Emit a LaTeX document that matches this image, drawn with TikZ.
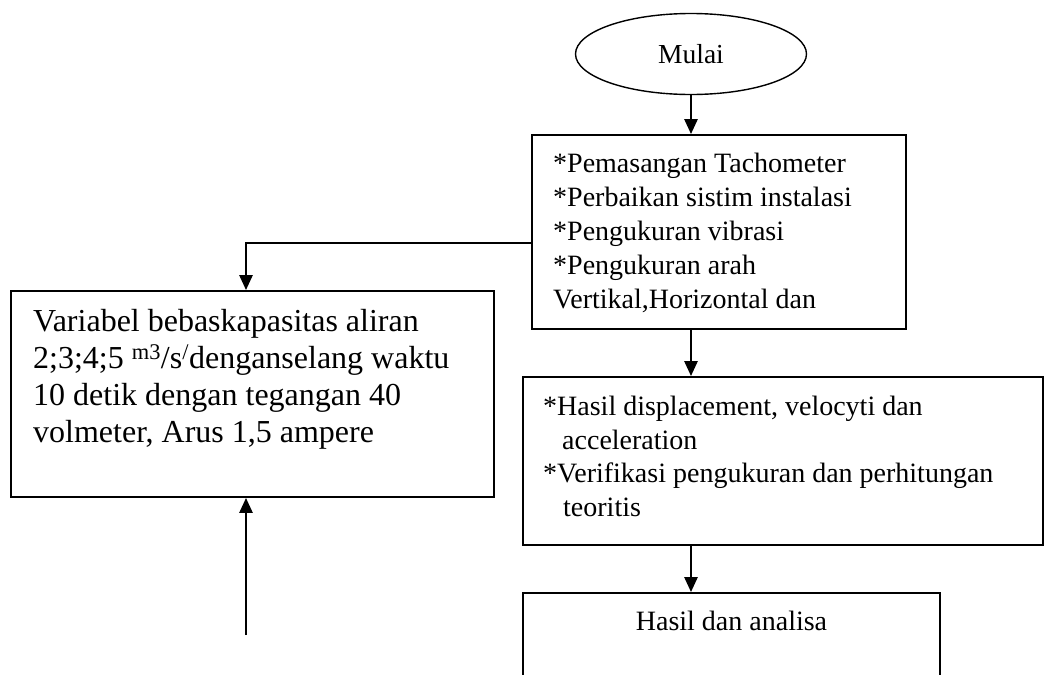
\documentclass[tikz,border=0pt]{standalone}
\usepackage{fontspec}
\setmainfont{Liberation Serif}
\usetikzlibrary{arrows.meta,shapes.geometric,calc}
\begin{document}
\begin{tikzpicture}[x=1pt,y=-1pt,
  box/.style={draw, line width=1.8pt, rectangle, inner sep=0pt},
  conn/.style={line width=2.6pt, -{Triangle[length=15pt,width=13pt]}},
  txt/.style={inner sep=0pt, align=left, anchor=north west, font=\fontsize{28}{34}\selectfont}]
\useasboundingbox (0,0) rectangle (1045,675);
\clip (0,0) rectangle (1045,675);
\node[ellipse, draw, line width=1.4pt, minimum width=231pt, minimum height=81pt, inner sep=0pt, font=\fontsize{27.5}{32}\selectfont] (start) at (691,54) {Mulai};
\node[box, minimum width=374pt, minimum height=194pt] (b1) at (719,232) {};
\node[box, minimum width=483pt, minimum height=206pt] (b2) at (252.5,394) {};
\node[box, minimum width=520pt, minimum height=168pt] (b3) at (783,461) {};
\node[box, minimum width=417pt, minimum height=140pt] (b4) at (731.5,663) {};
\node[txt] (t1) at (553,152.5) {*Pemasangan Tachometer\\*Perbaikan sistim instalasi\\*Pengukuran vibrasi\\*Pengukuran arah\\Vertikal,Horizontal dan};
\node[txt, font=\fontsize{32}{37}\selectfont] (t2) at (33,309) {Variabel bebaskapasitas aliran\\2;3;4;5 \textsuperscript{m3}/s\textsuperscript{/}denganselang waktu\\10 detik dengan tegangan 40\\volmeter, Arus 1,5 ampere};
\node[txt, font=\fontsize{28}{33.5}\selectfont] (t3) at (543,396) {*Hasil displacement, velocyti dan\\\hspace*{19pt}acceleration\\*Verifikasi pengukuran dan perhitungan\\\hspace*{20pt}teoritis};
\node[inner sep=0pt, anchor=base, font=\fontsize{28}{34}\selectfont] (t4) at (731.5,630) {Hasil dan analisa};
\draw[conn] (start.south) -- (start.south |- b1.north);
\draw[conn] ([yshift=-11pt]b1.west) -| ([xshift=-6.5pt]b2.north);
\coordinate (src) at (246,635);
\draw[conn] (src) -- (src |- b2.south);
\draw[conn] (b1.south -| start.south) -- (b3.north -| start.south);
\draw[conn] (b3.south -| start.south) -- (b4.north -| start.south);
\end{tikzpicture}
\end{document}
